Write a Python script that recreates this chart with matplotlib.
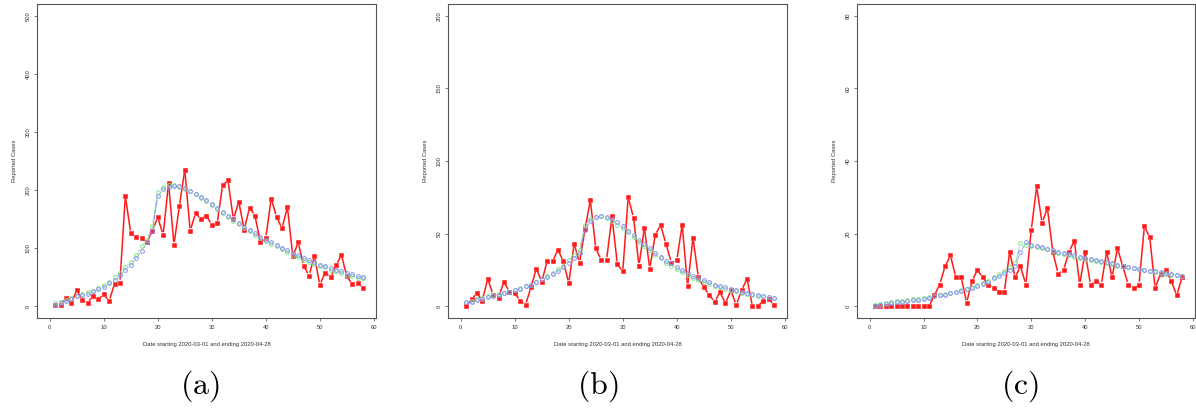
import numpy as np
import matplotlib
matplotlib.use("Agg")
import matplotlib.pyplot as plt
from matplotlib.collections import LineCollection

plt.rcParams["font.family"] = ["Liberation Sans", "DejaVu Sans"]
plt.rcParams["mathtext.fontset"] = "cm"

days = np.arange(1, 59)

# ---- panel (a) ----
obs_a = [3, 3, 14, 5, 28, 11, 6, 18, 12, 21, 9, 39, 41, 190, 126, 120, 117, 110, 130, 153,
         123, 212, 106, 172, 235, 130, 160, 150, 156, 140, 143, 208, 217, 150, 180, 132, 170, 156,
         110, 118, 185, 154, 134, 171, 86, 110, 70, 53, 86, 37, 58, 50, 71, 88, 52, 38, 40, 32]
fit1_a = [5, 8, 11, 15, 18, 21, 24, 27, 32, 37, 42, 50, 58, 67, 77, 88, 103, 115, 138, 197,
          205, 208, 208, 205, 202, 198, 193, 186, 181, 174, 168, 160, 154, 147, 141, 135, 129, 123,
          117, 112, 107, 103, 98, 94, 89, 85, 80, 76, 73, 69, 67, 63, 60, 57, 54, 52, 49, 48]
fit2_a = [3, 6, 9, 13, 17, 20, 22, 26, 30, 34, 40, 45, 54, 63, 72, 83, 96, 110, 130, 189,
          201, 205, 207, 207, 204, 199, 194, 188, 183, 176, 170, 163, 156, 150, 143, 137, 132, 126,
          120, 115, 110, 106, 101, 97, 92, 88, 84, 80, 76, 72, 69, 66, 63, 60, 57, 55, 52, 50]

# ---- panel (b) ----
obs_b = [0, 5, 9, 4, 19, 8, 6, 17, 10, 9, 4, 1, 13, 26, 17, 31, 31, 39, 31, 16,
         43, 30, 53, 73, 40, 32, 32, 62, 29, 24, 75, 61, 28, 54, 26, 49, 56, 43,
         30, 32, 56, 14, 47, 20, 13, 8, 3, 10, 2, 11, 1, 11, 19, 0, 0, 4, 5, 1]
fit1_b = [3, 4, 5, 6, 7, 8, 8.5, 9.4, 10, 11.5, 12.6, 14, 15, 17, 19, 21, 23, 26, 28, 32,
          35, 39, 56, 60, 61.5, 62, 61, 59, 56, 54, 51, 48, 44.5, 41.5, 38.5, 35.5, 33, 30,
          28, 25.5, 23.4, 21.3, 19.5, 18, 16.5, 15.4, 14, 13, 12, 11.2, 10.3, 9.4, 8.7, 8,
          7.3, 6.9, 6.2, 5.7]
fit2_b = [2.7, 3.2, 4.6, 5.3, 6.2, 6.9, 7.6, 9, 10, 11, 12, 14, 15, 17, 19, 20, 22, 24.5, 27, 30,
          33, 37, 52.5, 58.5, 61.5, 62, 61.5, 60, 58, 55, 52, 49, 46, 43, 40, 37, 34, 31.5,
          29.5, 27, 25, 23, 21, 19.5, 18, 16.5, 15, 14, 13, 12, 11, 10, 9.4, 8.5, 7.8, 7.1,
          6.4, 6]

# ---- panel (c) ----
obs_c = [0, 0, 0, 0, 0, 0, 0, 0, 0, 0, 0, 3, 6, 11, 14, 8, 8, 1, 7, 10,
         8, 6, 5, 4, 4, 15, 8, 11, 6, 21, 33, 23, 27, 15, 9, 10, 15, 18,
         6, 15, 6, 7, 6, 15, 8, 16, 11, 6, 5, 6, 22, 19, 5, 9, 10, 7, 3, 8]
fit1_c = [0.5, 0.7, 1.0, 1.2, 1.4, 1.6, 1.75, 1.9, 2.1, 2.4, 2.7, 2.9, 3.1, 3.4, 3.7, 4.0,
          4.4, 4.8, 5.2, 5.8, 6.4, 7.1, 8.1, 8.8, 9.7, 10.8, 11.8, 17.3, 16.9, 16.7, 16.4,
          16.1, 15.7, 15.2, 14.8, 14.5, 14.0, 13.7, 13.3, 12.9, 12.7, 12.4, 12.2, 11.9, 11.6,
          11.2, 11.0, 10.7, 10.5, 10.2, 10.0, 9.7, 9.4, 9.3, 9.0, 8.7, 8.5, 8.3]
fit2_c = [0.2, 0.5, 0.7, 0.9, 1.1, 1.3, 1.5, 1.65, 1.8, 2.1, 2.4, 2.75, 3.0, 3.2, 3.6, 3.9,
          4.2, 4.7, 5.1, 5.7, 6.2, 6.8, 7.7, 8.4, 9.3, 10.1, 11.2, 14.9, 17.6, 16.9, 16.5,
          16.2, 15.9, 15.4, 15.0, 14.7, 14.3, 14.0, 13.6, 13.2, 12.9, 12.7, 12.4, 12.1, 11.8,
          11.5, 11.2, 10.9, 10.6, 10.4, 10.1, 9.8, 9.6, 9.4, 9.1, 8.9, 8.6, 8.3]

panels = [
    dict(obs=obs_a, fit1=fit1_a, fit2=fit2_a, ymax=500, yticks=[0, 100, 200, 300, 400, 500],
         left=37, right=376, cap="(a)", capx=200),
    dict(obs=obs_b, fit1=fit1_b, fit2=fit2_b, ymax=200, yticks=[0, 50, 100, 150, 200],
         left=448, right=787, cap="(b)", capx=598),
    dict(obs=obs_c, fit1=fit1_c, fit2=fit2_c, ymax=80, yticks=[0, 20, 40, 60, 80],
         left=857, right=1195, cap="(c)", capx=1020),
]

W, H = 1196, 413
fig = plt.figure(figsize=(W / 100, H / 100), dpi=100)

RED = "#ff1a1a"
GREEN = "#7ee87e"
BLUE = "#8c8cff"


def gapped_lines(ax, x, y, color, lw, gap_px=3.0):
    """Connect points like R's type='b': segments stop short of each marker."""
    pts = ax.transData.transform(np.column_stack([x, y]))
    segs = []
    for p, q in zip(pts[:-1], pts[1:]):
        d = q - p
        L = np.hypot(*d)
        if L <= 2 * gap_px:
            continue
        u = d / L
        a = p + u * gap_px
        b = q - u * gap_px
        segs.append(ax.transData.inverted().transform(np.vstack([a, b])))
    ax.add_collection(LineCollection(segs, colors=color, linewidths=lw, zorder=2))


top_px, bot_px = 4, 318
for p in panels:
    ax = fig.add_axes([p["left"] / W, 1 - bot_px / H,
                       (p["right"] - p["left"]) / W, (bot_px - top_px) / H])
    ext = 0.04 * p["ymax"]
    ax.set_xlim(-2.35, 60.4)
    ax.set_ylim(-ext, p["ymax"] + ext)
    ax.set_xticks([0, 10, 20, 30, 40, 50, 60])
    ax.set_yticks(p["yticks"])
    ax.tick_params(axis="both", labelsize=4.2, length=2.2, width=0.5, color="#444444",
                   labelcolor="#333333", pad=2.5)
    for lab in ax.get_yticklabels():
        lab.set_rotation(90)
        lab.set_va("center")
    for s in ax.spines.values():
        s.set_color("#555555")
        s.set_linewidth(0.8)
    ax.set_ylabel("Reported Cases", fontsize=4.2, color="#333333", labelpad=6)
    ax.set_xlabel("Date starting 2020-03-01 and ending 2020-04-28", fontsize=4.2,
                  color="#333333", labelpad=9)

    # observed counts
    gapped_lines(ax, days, p["obs"], RED, 1.1, gap_px=2.8)
    ax.plot(days, p["obs"], "s", color=RED, ms=2.3, mec=RED, mew=0.4, zorder=3)
    # first fitted curve
    gapped_lines(ax, days, p["fit1"], GREEN, 0.6, gap_px=3.2)
    ax.plot(days, p["fit1"], "o", mfc="none", mec=GREEN, ms=2.7, mew=0.7, zorder=4)
    # second fitted curve
    gapped_lines(ax, days, p["fit2"], BLUE, 0.6, gap_px=3.2)
    ax.plot(days, p["fit2"], "o", mfc="none", mec=BLUE, ms=2.7, mew=0.7, zorder=5)

    fig.text(p["capx"] / W, 1 - 386 / H, r"$\mathrm{" + p["cap"] + "}$",
             fontsize=23, ha="center", va="center")

fig.savefig("out.png", dpi=100)
